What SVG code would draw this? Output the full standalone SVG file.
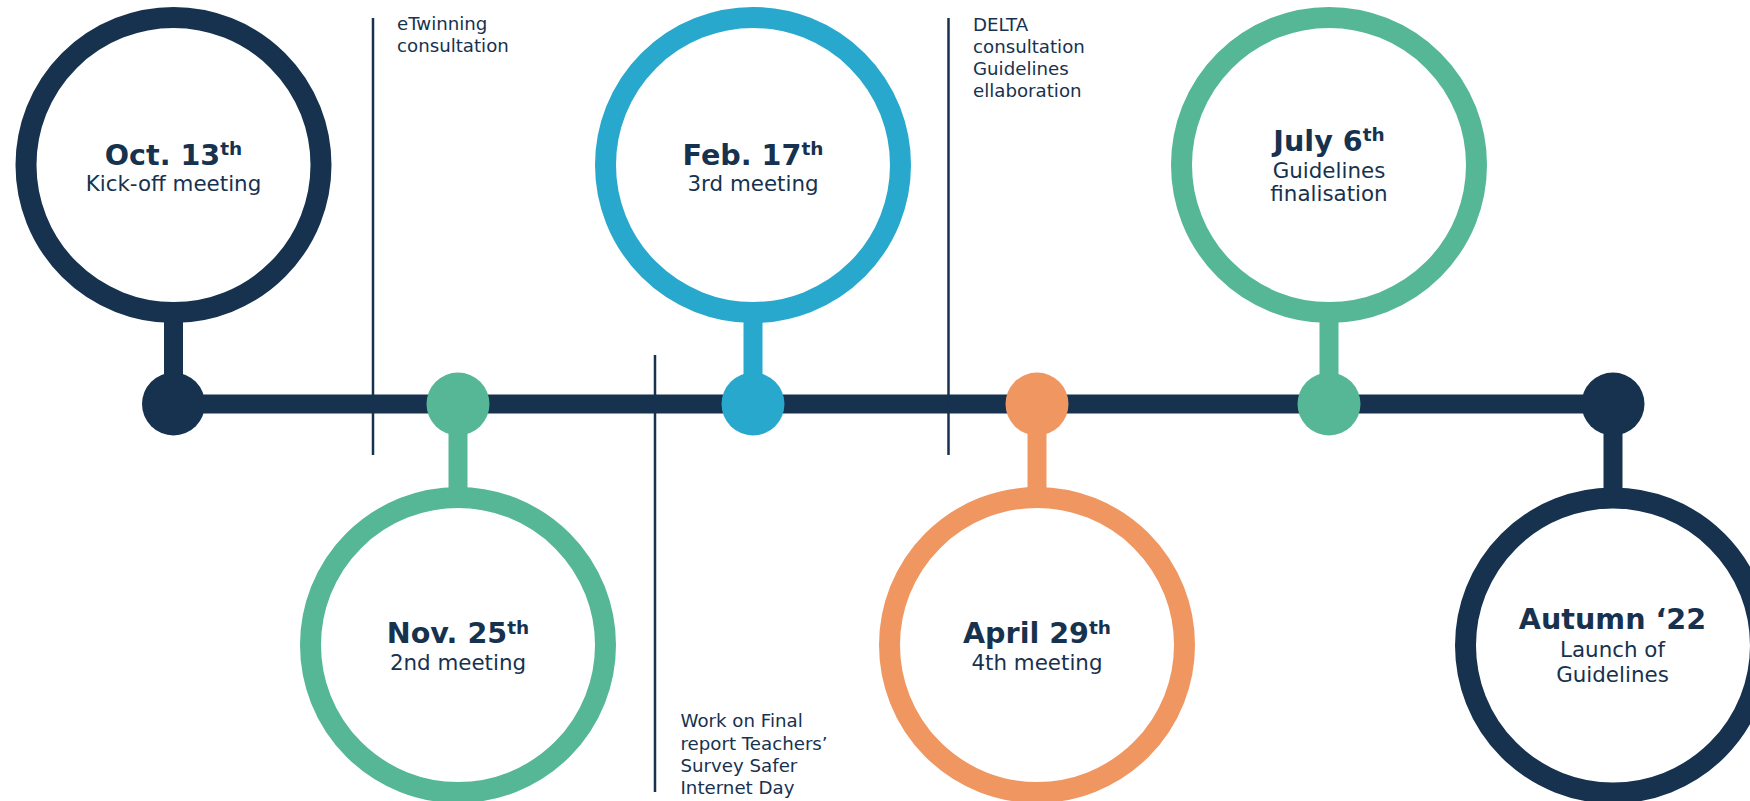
<svg xmlns="http://www.w3.org/2000/svg" width="1750" height="801" viewBox="0 0 1750 801">
<style>
  .ring { fill: #ffffff; stroke-width: 21; }
  .stem { stroke-width: 19; fill: none; }
  .navy { stroke: #17324e; }
  .green { stroke: #56b796; }
  .blue { stroke: #28a8cd; }
  .orange { stroke: #f09761; }
  .fnavy { fill: #17324e; }
  .fgreen { fill: #56b796; }
  .fblue { fill: #28a8cd; }
  .forange { fill: #f09761; }
  .title { font-family: "DejaVu Sans", Verdana, sans-serif; font-weight: bold; font-size: 28.6px; fill: #17324e; text-anchor: middle; }
  .sup { font-size: 18.5px; }
  .sub { font-family: "DejaVu Sans", Verdana, sans-serif; font-size: 21.4px; fill: #17324e; text-anchor: middle; }
  .note { font-family: "DejaVu Sans", Verdana, sans-serif; font-size: 18.2px; fill: #17324e; }
  .divider { stroke: #17324e; stroke-width: 2.5; }
</style>

<g id="connectors">
  <line x1="173.5" y1="404" x2="1613" y2="404" stroke="#17324e" stroke-width="19"/>
</g>

<g id="dividers">
  <line class="divider" x1="373" y1="18" x2="373" y2="455"/>
  <line class="divider" x1="655" y1="355" x2="655" y2="792"/>
  <line class="divider" x1="948.5" y1="18" x2="948.5" y2="455"/>
</g>

<g id="note-etwinning">
  <text class="note" x="397" y="30">eTwinning</text>
  <text class="note" x="397" y="52.3">consultation</text>
</g>

<g id="note-delta">
  <text class="note" x="973" y="30.5">DELTA</text>
  <text class="note" x="973" y="52.8">consultation</text>
  <text class="note" x="973" y="75.1">Guidelines</text>
  <text class="note" x="973" y="97.4">ellaboration</text>
</g>

<g id="note-final-report">
  <text class="note" x="680.5" y="727.3">Work on Final</text>
  <text class="note" x="680.5" y="749.6">report Teachers’</text>
  <text class="note" x="680.5" y="771.9">Survey Safer</text>
  <text class="note" x="680.5" y="794.2">Internet Day</text>
</g>

<g id="node-oct">
  <line class="stem navy" x1="173.5" y1="300" x2="173.5" y2="404"/>
  <circle class="fnavy" cx="173.5" cy="404" r="31.5"/>
  <circle class="ring navy" cx="173.5" cy="165" r="147.5"/>
  <text class="title" x="173.5" y="164.5">Oct. 13<tspan class="sup" dy="-9.5">th</tspan></text>
  <text class="sub" x="173.5" y="190.7">Kick-off meeting</text>
</g>

<g id="node-nov">
  <line class="stem green" x1="458" y1="404" x2="458" y2="510"/>
  <circle class="fgreen" cx="458" cy="404" r="31.5"/>
  <circle class="ring green" cx="458" cy="645" r="147.5"/>
  <text class="title" x="458" y="643">Nov. 25<tspan class="sup" dy="-9.5">th</tspan></text>
  <text class="sub" x="458" y="670">2nd meeting</text>
</g>

<g id="node-feb">
  <line class="stem blue" x1="753" y1="300" x2="753" y2="404"/>
  <circle class="fblue" cx="753" cy="404" r="31.5"/>
  <circle class="ring blue" cx="753" cy="165" r="147.5"/>
  <text class="title" x="753" y="164.5">Feb. 17<tspan class="sup" dy="-9.5">th</tspan></text>
  <text class="sub" x="753" y="190.7">3rd meeting</text>
</g>

<g id="node-apr">
  <line class="stem orange" x1="1037" y1="404" x2="1037" y2="510"/>
  <circle class="forange" cx="1037" cy="404" r="31.5"/>
  <circle class="ring orange" cx="1037" cy="645" r="147.5"/>
  <text class="title" x="1037" y="643.3">April 29<tspan class="sup" dy="-9.5">th</tspan></text>
  <text class="sub" x="1037" y="670">4th meeting</text>
</g>

<g id="node-jul">
  <line class="stem green" x1="1329" y1="300" x2="1329" y2="404"/>
  <circle class="fgreen" cx="1329" cy="404" r="31.5"/>
  <circle class="ring green" cx="1329" cy="165" r="147.5"/>
  <text class="title" x="1329" y="150.7">July 6<tspan class="sup" dy="-9.5">th</tspan></text>
  <text class="sub" x="1329" y="177.5">Guidelines</text>
  <text class="sub" x="1329" y="201">finalisation</text>
</g>

<g id="node-autumn">
  <line class="stem navy" x1="1613" y1="404" x2="1613" y2="510"/>
  <circle class="fnavy" cx="1613" cy="404" r="31.5"/>
  <circle class="ring navy" cx="1613" cy="645.5" r="147.5"/>
  <text class="title" x="1612.5" y="628.8">Autumn ‘22</text>
  <text class="sub" x="1612.5" y="656.7">Launch of</text>
  <text class="sub" x="1612.5" y="682.3">Guidelines</text>
</g>
</svg>
